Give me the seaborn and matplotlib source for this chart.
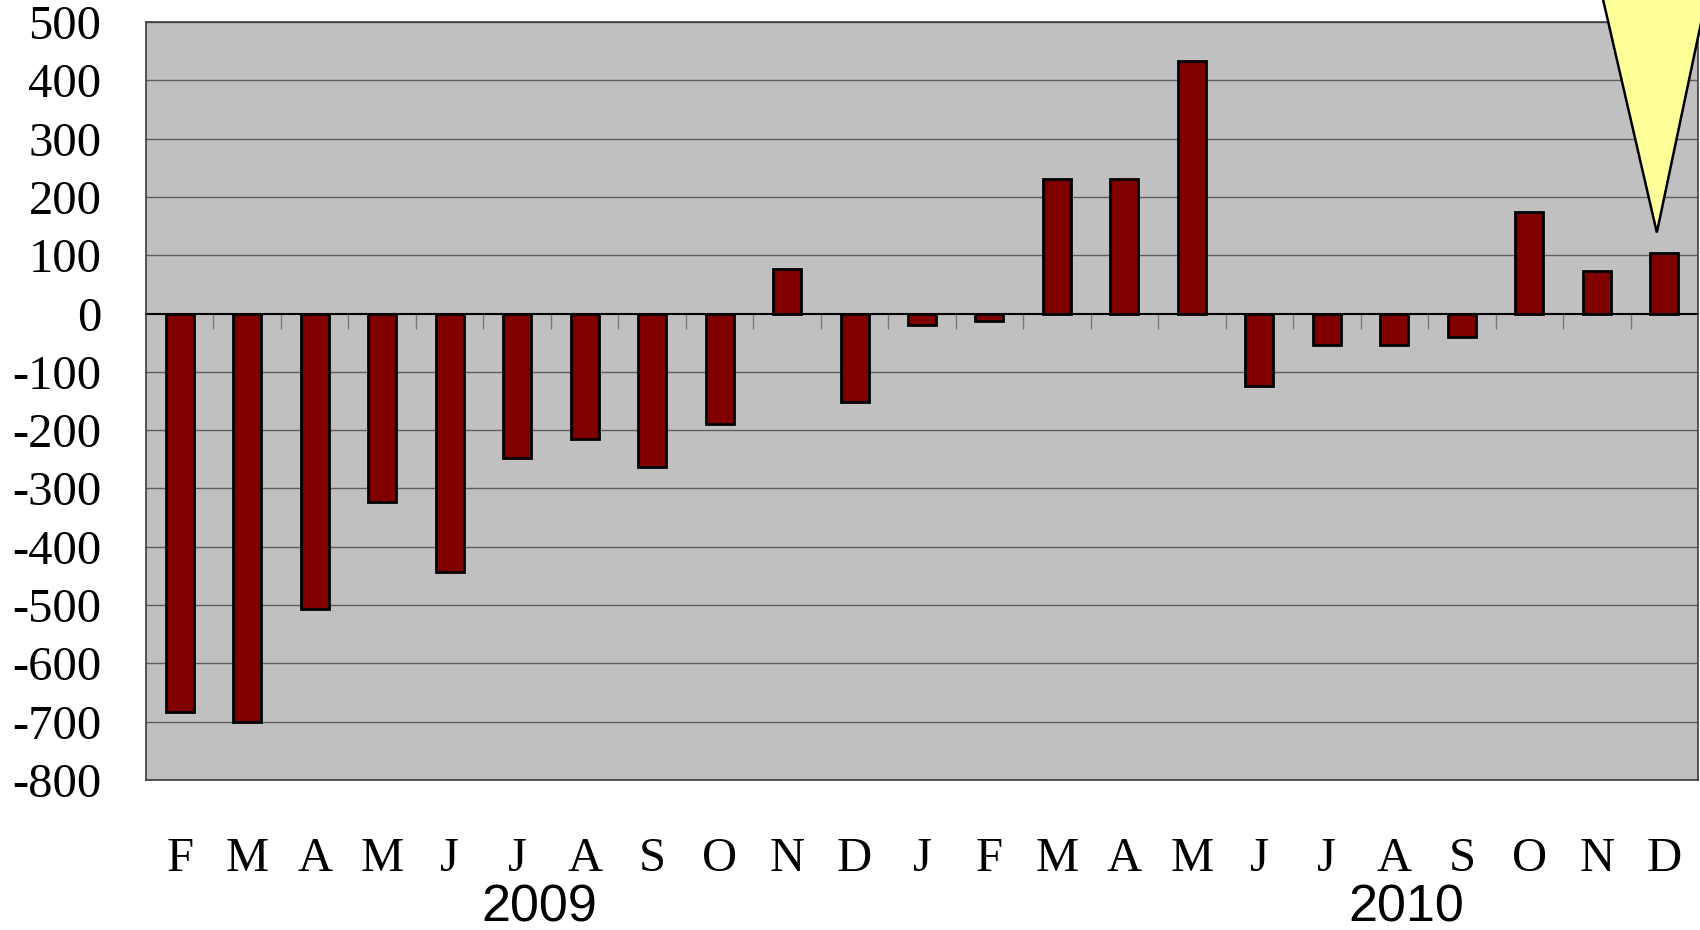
import matplotlib.pyplot as plt
import pandas as pd
import seaborn as sns
from matplotlib.patches import Polygon
from matplotlib.transforms import blended_transform_factory

# Datos (variacion mensual)
meses = ["F", "M", "A", "M", "J", "J", "A", "S", "O", "N", "D",
         "J", "F", "M", "A", "M", "J", "J", "A", "S", "O", "N", "D"]
anios = ["2009"] * 11 + ["2010"] * 12
valores = [-683, -701, -506, -323, -444, -248, -216, -263, -190, 77, -151,
           -19, -13, 231, 231, 433, -125, -54, -54, -41, 174, 73, 104]
yticks = list(range(-800, 501, 100))

df = pd.DataFrame({
    "periodo": [f"{m} {a} {i}" for i, (m, a) in enumerate(zip(meses, anios))],
    "valor": valores,
})

sns.set_style("white")
plt.rcParams["axes.unicode_minus"] = False
plt.rcParams["text.color"] = "black"
plt.rcParams["xtick.color"] = "black"
plt.rcParams["ytick.color"] = "black"

fig = plt.figure(figsize=(17, 9.3), dpi=100)
ax = fig.add_axes([146 / 1700, 150 / 930, 1552 / 1700, 758 / 930])
ax.set_facecolor("#C0C0C0")

sns.barplot(data=df, x="periodo", y="valor", color="#800000", saturation=1,
            edgecolor="black", linewidth=2.0, width=0.415, ax=ax, zorder=3)

ax.set_ylim(-800, 500)
ax.set_xlim(-0.5, len(meses) - 0.5)
ax.set_yticks(yticks)
ax.set_yticklabels([str(v) for v in yticks], family="Liberation Serif", fontsize=35)
ax.set_xticks(range(len(meses)))
ax.set_xticklabels(meses, family="Liberation Serif", fontsize=35)
ax.tick_params(axis="y", length=0, pad=32, labelcolor="black")
ax.tick_params(axis="x", length=0, pad=41, labelcolor="black")
ax.set_xlabel("")
ax.set_ylabel("")

# lineas de cuadricula
for v in yticks:
    if v != 0:
        ax.axhline(v, color="#5e5e5e", lw=1.0, zorder=1)

for s in ax.spines.values():
    s.set_color("#3c3c3c")
    s.set_linewidth(1.2)
    s.set_visible(True)

# eje en el cero con marcas entre categorias
cero = (0 - (-800)) / (500 - (-800))
sec = ax.secondary_xaxis(cero)
sec.set_xticks([i + 0.5 for i in range(len(meses) - 1)])
sec.set_xticklabels([])
sec.tick_params(axis="x", length=11, width=1.0, color="#7a7a7a", direction="in")
sec.spines["bottom"].set_color("black")
sec.spines["bottom"].set_linewidth(1.5)
sec.spines["top"].set_color("black")
sec.spines["top"].set_linewidth(1.5)

# anios debajo de los meses
trans = blended_transform_factory(ax.transData, fig.transFigure)
ax.text(5.33, 0.009, "2009", transform=trans, ha="center", va="baseline",
        family="Liberation Sans", fontsize=37.5, color="black")
ax.text(18.17, 0.009, "2010", transform=trans, ha="center", va="baseline",
        family="Liberation Sans", fontsize=37.5, color="black")

# punta de la llamada amarilla
llamada_x = [20.97, 22.73, 21.89]
llamada_y = [600, 600, 139]
tri = Polygon(list(zip(llamada_x, llamada_y)), closed=True, facecolor="#FFFF99",
              edgecolor="black", linewidth=1.8, clip_on=False, zorder=5)
ax.add_patch(tri)

fig.savefig("out.png", dpi=100)
